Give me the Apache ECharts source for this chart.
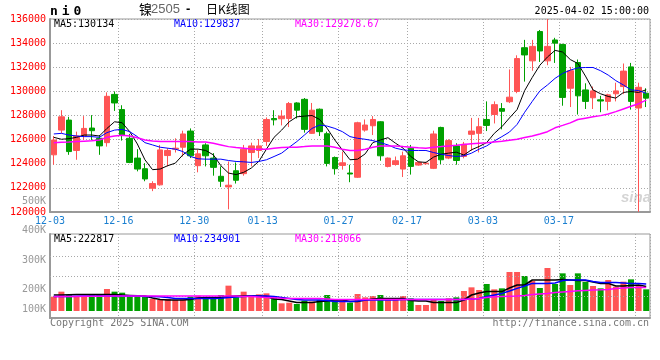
<!DOCTYPE html>
<html><head><meta charset="utf-8">
<script src="https://cdn.jsdelivr.net/npm/echarts/dist/echarts.min.js"></script>
<style>html,body{margin:0;padding:0;background:#fff}#c{width:660px;height:360px}</style>
</head><body><div id="c"></div>
<script>
const dates = ['12-03','12-04','12-05','12-06','12-09','12-10','12-11','12-12','12-13','12-16','12-17','12-18','12-19','12-20','12-23','12-24','12-25','12-26','12-27','12-30','12-31',
'01-02','01-03','01-06','01-07','01-08','01-09','01-10','01-13','01-14','01-15','01-16','01-17','01-20','01-21','01-22','01-23','01-24','01-27',
'02-05','02-06','02-07','02-10','02-11','02-12','02-13','02-14','02-17','02-18','02-19','02-20','02-21','02-24','02-25','02-26','02-27','02-28',
'03-03','03-04','03-05','03-06','03-07','03-10','03-11','03-12','03-13','03-14','03-17','03-18','03-19','03-20','03-21','03-24','03-25','03-26','03-27','03-28','03-31','04-01'];
const tickLabels = ['12-03','12-16','12-30','01-13','01-27','02-17','03-03','03-17','03-31'];

const opens  = [124740,126790,127620,125100,126300,126960,126110,125750,129750,128490,126110,124470,123590,121970,122250,124680,125210,125370,126710,123840,125560,124470,122960,122080,123420,123180,124930,125100,125840,127750,127730,127750,129040,129340,126520,128520,126490,124520,123860,123230,122880,126790,127150,127480,123780,123940,123560,125290,123890,124000,123620,127010,124470,125480,124610,126440,126520,127670,128080,128570,129140,129990,133620,132530,134960,132530,134260,133890,130260,132390,130120,129470,129300,129170,129800,130400,132030,128620,129850];
const closes = [125970,127890,125010,126300,126930,126740,125480,129590,129040,126380,124110,123560,122740,122360,125150,125100,125290,126470,124660,124820,124660,123700,122550,122220,122630,125210,125480,125480,127670,127640,127950,128990,128440,126850,128440,126660,124030,123590,124080,123150,127400,127210,127670,124660,124470,124250,124660,123780,124110,124050,126470,124330,125920,124270,125620,126710,127070,127180,128900,128350,129520,132720,133020,133730,133350,133730,134000,129500,131710,129630,129170,130040,129200,129710,130040,131680,129170,130340,129440];
const lows   = [123920,126520,124740,124330,125970,125970,124740,125420,128380,125920,124050,123370,122550,121730,122190,123780,124930,124600,124470,123290,123780,123010,122080,120220,122360,123010,123780,124470,125480,127180,127180,127040,127750,126580,126470,126300,123780,123100,123510,122470,122820,126660,126380,124250,123700,123840,122900,123100,123840,123940,123560,123970,124380,123920,124450,125070,124940,126710,127340,126850,129030,129850,130810,131710,132440,132170,132360,128810,128700,128080,128540,128540,128270,128430,129170,129770,128490,120020,128700];
const highs  = [126300,128440,127890,126660,127950,128030,126380,129920,130000,128850,126470,125210,124050,122550,125560,125290,126110,126740,126930,125150,125700,124880,123780,124190,124110,125560,125750,126050,127840,128440,128440,129120,129100,129450,129040,128580,126660,124600,125010,123920,127480,127670,127950,127530,124520,124600,125010,125560,124190,124160,126740,127070,126030,125700,125810,127800,127800,129170,129170,129030,131820,132990,134270,134270,135090,136000,134440,133950,132030,132640,130670,130400,129630,129800,130720,132310,132360,130720,130260];

const ma5  = [126190,126030,126080,126190,126380,126380,126300,126930,127480,127400,126660,125640,124330,123510,123560,123840,124050,124740,125210,125210,125100,124740,123840,123230,123100,123290,123640,124200,125210,126190,126790,127480,127890,127950,128000,127670,126930,125970,125150,124330,124380,124820,125750,125970,126160,125700,125290,124600,124160,124110,124550,124790,124880,124960,124720,125160,125430,125760,126520,127070,127800,128490,130070,131160,132170,132850,133400,133260,132640,132310,131270,130120,129800,129580,129440,129910,129990,129910,130134];
const ma10 = [126470,126520,126380,126300,126250,126250,126190,126580,126790,126850,126660,126250,125750,125560,125370,125290,125210,125010,124600,124410,124380,124380,124380,124270,124190,124160,124110,124190,124330,124600,124880,125370,125840,126380,126930,127210,127120,126930,126660,126250,126110,126030,125920,125750,125560,125290,125150,125100,125100,125100,124930,124790,124680,124600,124660,124880,125210,125480,125890,126250,126630,127260,128270,129170,130040,130530,131080,131490,131760,131950,131980,131980,131710,131350,130890,130530,130120,130070,129837];
const ma30 = [125750,125780,125800,125840,125870,125900,125970,126190,126300,126360,126300,126160,125970,125890,125840,125840,125840,125840,125840,125810,125810,125700,125560,125420,125340,125290,125230,125210,125210,125290,125340,125370,125370,125420,125480,125480,125480,125370,125210,125100,125100,125210,125370,125480,125480,125480,125420,125370,125320,125290,125370,125420,125480,125530,125600,125650,125700,125750,125810,125870,125950,126030,126170,126300,126470,126660,126980,127180,127390,127670,127780,127890,127990,128130,128320,128540,128760,128980,129278.67];

const volumes = [171700,196700,180000,171700,171700,180000,180000,210000,196700,191700,180000,180000,175000,160000,155000,160000,155000,158000,171700,176700,168300,168300,180000,226700,168300,196700,180000,183300,188300,175000,138300,141700,135000,151700,146700,155000,180000,155000,155000,141700,185000,168300,175000,180000,163300,163300,175000,163300,130000,130000,155000,150000,163300,168300,200000,218300,205000,235000,208300,213300,295000,295000,275000,250000,215000,315000,235000,288300,230000,288300,245000,225000,213300,255000,221700,246700,258300,225000,208300];
const volMa5  = [180,180,181,182,182,183,183,183,183,180,178,176,175,165,157,155,155,155,157,165,167,167,167,172,175,175,175,175,172,160,158,150,142,142,142,148,150,155,155,147,147,155,160,163,163,163,163,152,150,150,142,142,142,142,155,180,190,197,197,197,215,230,230,255,255,255,255,258,255,252,252,245,238,238,225,225,228,230,222.817];
const volMa10 = [172,172,173,174,175,175,175,175,175,175,175,175,172,172,171,167,163,163,163,163,163,163,164,168,170,172,175,175,175,172,168,163,158,155,155,155,153,148,147,147,150,155,155,155,155,155,157,158,158,158,158,158,158,158,158,160,163,172,180,188,200,213,225,238,238,238,240,252,255,255,255,248,242,242,242,240,238,237,234.901];
const volMa30 = [172,172,173,173,174,174,174,175,175,175,175,175,175,175,175,175,175,175,175,175,175,175,175,175,175,173,172,170,168,166,164,163,163,163,162,162,160,158,158,158,158,158,158,158,158,158,158,158,158,158,158,158,158,158,158,160,163,167,171,173,174,175,178,182,185,188,192,195,198,201,203,205,206,208,212,215,217,218,218.066];

const priceMin = 120000, priceMax = 136000, priceStep = 2000;
const volTickLabels = ['500K','400K','300K','200K','100K'];
const volGridValues = [175000, 275000, 375000];
const maLabels = ['MA5:130134','MA10:129837','MA30:129278.67'];
const volMaLabels = ['MA5:222817','MA10:234901','MA30:218066'];
const symbolChars = ['n','i','0'];

const UP = '#ff5555', DOWN = '#00a000';
const MONO = "'DejaVu Sans Mono', 'Liberation Mono', monospace";
const dotted = {type: [1, 2], color: '#a8a8a8', width: 1};
const showTick = (i, v) => tickLabels.indexOf(v) >= 0;

const n = dates.length;
[opens, closes, lows, highs, ma5, ma10, ma30, volumes, volMa5, volMa10, volMa30].forEach((a, k) => {
  if (a.length !== n) throw new Error('length mismatch in array ' + k + ': ' + a.length + ' vs ' + n);
});

const chart = echarts.init(document.getElementById('c'), null, {renderer: 'canvas'});
const kData = dates.map((d, i) => [opens[i], closes[i], lows[i], highs[i]]);
const volData = volumes.map((v, i) => ({value: v, itemStyle: {color: closes[i] >= opens[i] ? UP : DOWN}}));
const K = a => a.map(v => v * 1000);

const volLabelY = [201, 230, 260, 289, 309];
const graphics = [
  {type: 'text', x: 139, y: 9, style: {text: '镍', font: "13px 'Noto Sans CJK SC'", fill: '#000', verticalAlign: 'middle'}},
  {type: 'text', x: 151, y: 9, style: {text: '2505', font: "13px 'Liberation Sans'", fill: '#666', verticalAlign: 'middle'}},
  {type: 'text', x: 186, y: 9, style: {text: '-', font: "bold 13px 'Liberation Sans'", fill: '#000', verticalAlign: 'middle'}},
  {type: 'text', x: 206, y: 9, style: {text: '日K线图', font: "12px 'Noto Sans CJK SC'", fill: '#000', verticalAlign: 'middle'}},
  {type: 'text', x: 649, y: 11, style: {text: '2025-04-02 15:00:00', font: '10px ' + MONO, fill: '#000', align: 'right', verticalAlign: 'middle'}},
  {type: 'text', x: 54, y: 24, style: {text: maLabels[0], font: '10px ' + MONO, fill: '#000', verticalAlign: 'middle'}},
  {type: 'text', x: 174, y: 24, style: {text: maLabels[1], font: '10px ' + MONO, fill: '#0000ff', verticalAlign: 'middle'}},
  {type: 'text', x: 295, y: 24, style: {text: maLabels[2], font: '10px ' + MONO, fill: '#ff00ff', verticalAlign: 'middle'}},
  {type: 'text', x: 54, y: 239, style: {text: volMaLabels[0], font: '10px ' + MONO, fill: '#000', verticalAlign: 'middle'}},
  {type: 'text', x: 174, y: 239, style: {text: volMaLabels[1], font: '10px ' + MONO, fill: '#0000ff', verticalAlign: 'middle'}},
  {type: 'text', x: 295, y: 239, style: {text: volMaLabels[2], font: '10px ' + MONO, fill: '#ff00ff', verticalAlign: 'middle'}},
  {type: 'text', x: 50, y: 323, style: {text: 'Copyright 2025 SINA.COM', font: '10px ' + MONO, fill: '#777', verticalAlign: 'middle'}},
  {type: 'text', x: 649, y: 323, style: {text: 'http://finance.sina.com.cn', font: '10px ' + MONO, fill: '#777', align: 'right', verticalAlign: 'middle'}},
  {type: 'text', x: 621, y: 198, style: {text: 'sina', font: "italic bold 15px 'Liberation Sans'", fill: '#d4d4d4', verticalAlign: 'middle'}}
];
symbolChars.forEach((c, k) => graphics.push({type: 'text', x: 50 + k * 11.7, y: 12,
  style: {text: c, font: 'bold 13px ' + MONO, fill: '#000', verticalAlign: 'middle'}}));
volTickLabels.forEach((t, k) => graphics.push({type: 'text', x: 46, y: volLabelY[k],
  style: {text: t, font: '10px ' + MONO, fill: '#999', align: 'right', verticalAlign: 'middle'}}));

const line = (name, data, color, w, xi) => ({name, type: 'line', data, xAxisIndex: xi, yAxisIndex: xi,
  symbol: 'none', smooth: false, lineStyle: {color, width: w}, z: 5, silent: true});

chart.setOption({
  animation: false,
  backgroundColor: '#fff',
  grid: [
    {left: 50, top: 19, width: 600, height: 193, show: true, borderColor: '#999', borderWidth: 1},
    {left: 50, top: 234, width: 600, height: 84, show: true, borderColor: '#999', borderWidth: 1},
    {left: 50, top: 234, width: 600, height: 77, show: false}
  ],
  xAxis: [
    {type: 'category', gridIndex: 0, data: dates, boundaryGap: true,
     axisLine: {show: true, lineStyle: {color: '#999', width: 2}}, axisTick: {show: false},
     axisLabel: {interval: showTick, color: '#1a7fd0', fontFamily: MONO, fontSize: 10, margin: 4, padding: [0, 7.6, 0, 0], showMinLabel: true, showMaxLabel: false, hideOverlap: false},
     splitLine: {show: true, interval: showTick, lineStyle: dotted}},
    {type: 'category', gridIndex: 1, data: dates, boundaryGap: true,
     axisLine: {show: true, lineStyle: {color: '#999', width: 2}}, axisTick: {show: false}, axisLabel: {show: false},
     splitLine: {show: true, interval: showTick, lineStyle: dotted}},
    {type: 'category', gridIndex: 2, data: dates, boundaryGap: true, show: false}
  ],
  yAxis: [
    {type: 'value', gridIndex: 0, min: priceMin, max: priceMax, interval: priceStep, scale: true,
     axisLine: {show: true, lineStyle: {color: '#999', width: 2}}, axisTick: {show: false},
     axisLabel: {color: '#ff0000', fontFamily: MONO, fontSize: 10, margin: 4, padding: [0, 0, 4, 0], formatter: v => String(v)},
     splitLine: {show: true, lineStyle: dotted}},
    {type: 'value', gridIndex: 1, min: 0, max: 1,
     axisLine: {show: true, lineStyle: {color: '#999', width: 2}}, axisTick: {show: false}, axisLabel: {show: false}, splitLine: {show: false}},
    {type: 'value', gridIndex: 2, min: 100000, max: 485000, show: false, splitLine: {show: false}}
  ],
  graphic: graphics,
  series: [
    {type: 'candlestick', xAxisIndex: 0, yAxisIndex: 0, data: kData, barWidth: 6,
     itemStyle: {color: UP, color0: DOWN, borderColor: UP, borderColor0: DOWN, borderWidth: 1}, z: 3},
    line('MA5', ma5, '#000', 1, 0),
    line('MA10', ma10, '#0000ff', 1, 0),
    line('MA30', ma30, '#ff00ff', 1.5, 0),
    {type: 'bar', xAxisIndex: 2, yAxisIndex: 2, data: volData, barWidth: 6, z: 3,
     markLine: {silent: true, symbol: ['none', 'none'], label: {show: false}, lineStyle: dotted,
       data: volGridValues.map(v => ({yAxis: v}))}},
    line('VMA5', K(volMa5), '#000', 1.5, 2),
    line('VMA10', K(volMa10), '#0000ff', 1.5, 2),
    line('VMA30', K(volMa30), '#ff00ff', 1.5, 2)
  ]
});
</script>
</body></html>
